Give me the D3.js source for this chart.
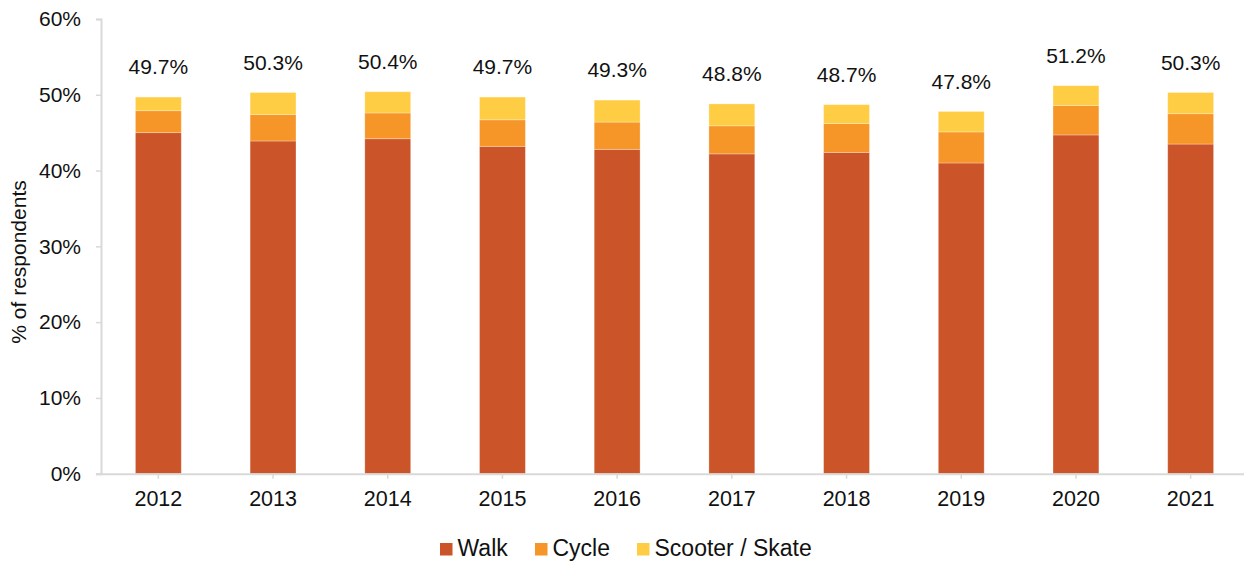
<!DOCTYPE html>
<html>
<head>
<meta charset="utf-8">
<script src="https://cdn.jsdelivr.net/npm/d3@7"></script>
<style>
  html, body { margin: 0; padding: 0; background: #fff; }
  svg { display: block; font-family: Arial, "Liberation Sans", sans-serif; }
</style>
</head>
<body>
<svg id="chart" width="1244" height="561"></svg>
<script>
// chart data
const years    = ['2012', '2013', '2014', '2015', '2016', '2017', '2018', '2019', '2020', '2021'];
const walk     = [45.0, 43.9, 44.2, 43.2, 42.8, 42.2, 42.4, 41.0, 44.7, 43.5];
const cycle    = [2.9, 3.5, 3.4, 3.5, 3.6, 3.7, 3.8, 4.1, 3.9, 4.0];
const scooter  = [1.8, 2.9, 2.8, 3.0, 2.9, 2.9, 2.5, 2.7, 2.6, 2.8];
const totals   = ['49.7%', '50.3%', '50.4%', '49.7%', '49.3%', '48.8%', '48.7%', '47.8%', '51.2%', '50.3%'];
const seriesNames = ['Walk', 'Cycle', 'Scooter / Skate'];
const yTicks   = [0, 10, 20, 30, 40, 50, 60];

const COLORS = { 'Walk': '#CB5529', 'Cycle': '#F79628', 'Scooter / Skate': '#FFCD44' };
const AXIS = '#d9d9d9', INK = '#111';
const FS = 21;

const svg = d3.select('#chart');

// plot box
const X0 = 101, X1 = 1248, Y0 = 473.7, Y1 = 19;

const x = d3.scaleBand().domain(years).range([X0, X1]).paddingInner(0.6).paddingOuter(0.3);
const y = d3.scaleLinear().domain([0, 60]).range([Y0, Y1]);

const rows = years.map((yr, i) => ({ year: yr, 'Walk': walk[i], 'Cycle': cycle[i], 'Scooter / Skate': scooter[i] }));
const stacked = d3.stack().keys(seriesNames)(rows);

// bars
const gBars = svg.append('g');
stacked.forEach(layer => {
  gBars.append('g').attr('fill', COLORS[layer.key])
    .selectAll('rect').data(layer).join('rect')
    .attr('x', d => x(d.data.year))
    .attr('width', x.bandwidth())
    .attr('y', d => y(d[1]))
    .attr('height', d => y(d[0]) - y(d[1]))
    .attr('stroke', '#fff').attr('stroke-opacity', 0.35).attr('stroke-width', 0.8);
});

// y axis
const yAxis = svg.append('g').attr('transform', `translate(${X0},0)`)
  .call(d3.axisLeft(y).tickValues(yTicks).tickFormat(d => d + '%').tickSizeOuter(0).tickSize(5).tickPadding(15));
yAxis.select('.domain').attr('stroke', AXIS).attr('stroke-width', 2);
yAxis.selectAll('.tick line').attr('stroke', AXIS).attr('stroke-width', 1.5);
yAxis.selectAll('.tick text').attr('font-size', FS).attr('fill', INK).attr('font-family', 'Arial, "Liberation Sans", sans-serif');

// x axis
const xAxis = svg.append('g').attr('transform', `translate(0,${Y0})`)
  .call(d3.axisBottom(x).tickSizeOuter(0).tickSize(5).tickPadding(12));
xAxis.select('.domain').attr('d', `M${X0 - 5},0.5H${X1}`).attr('stroke', AXIS).attr('stroke-width', 2);
xAxis.selectAll('.tick line').attr('stroke', AXIS).attr('stroke-width', 1.5);
xAxis.selectAll('.tick text').attr('font-size', 21.5).attr('fill', INK).attr('font-family', 'Arial, "Liberation Sans", sans-serif');

// total labels above the bars
svg.append('g').selectAll('text').data(stacked[stacked.length - 1]).join('text')
  .attr('x', d => x(d.data.year) + x.bandwidth() / 2)
  .attr('y', d => y(d[1]) - 30)
  .attr('dy', '0.35em')
  .attr('text-anchor', 'middle')
  .attr('font-size', FS).attr('fill', INK)
  .text((d, i) => totals[i]);

// y axis title
svg.append('text')
  .attr('transform', 'translate(26,262) rotate(-90)')
  .attr('text-anchor', 'middle')
  .attr('font-size', FS).attr('fill', INK)
  .text('% of respondents');

// legend
const legendX = [440, 535, 637];
const gLeg = svg.append('g');
seriesNames.forEach((name, i) => {
  gLeg.append('rect').attr('x', legendX[i]).attr('y', 543).attr('width', 12.5).attr('height', 12.5)
    .attr('fill', COLORS[name]);
  gLeg.append('text').attr('x', legendX[i] + 17.5).attr('y', 556)
    .attr('font-size', 23).attr('fill', INK).text(name);
});
</script>
</body>
</html>
